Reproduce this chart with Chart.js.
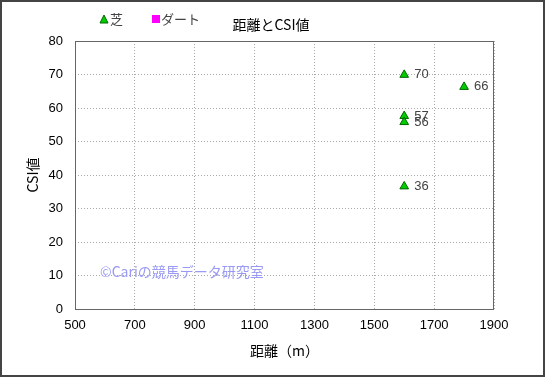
<!DOCTYPE html>
<html>
<head>
<meta charset="utf-8">
<script src="https://cdn.jsdelivr.net/npm/chart.js@4.4.0/dist/chart.umd.min.js"></script>
<style>
  html, body { margin: 0; padding: 0; background: #fff; }
  #wrap { width: 545px; height: 377px; position: relative; }
</style>
</head>
<body>
<div id="wrap"><canvas id="myChart" width="545" height="377"></canvas></div>
<script>
// distance (m) and CSI values
const turfDistance = [1600, 1800, 1600, 1600, 1600];
const turfCsi = [69.9, 66.3, 57.6, 55.8, 36.6];
const turfLabels = ['70', '66', '57', '56', '36'];
const dirtDistance = [];
const dirtCsi = [];

const xTicks = [500, 700, 900, 1100, 1300, 1500, 1700, 1900];
const yTicks = [0, 10, 20, 30, 40, 50, 60, 70, 80];

const FONT = "'Liberation Sans', 'Noto Sans CJK JP', sans-serif";
const JFONT = "'Noto Sans CJK JP', 'Liberation Sans', sans-serif";

const toPoints = (xs, ys) => xs.map((x, i) => ({ x: x, y: ys[i] }));

const extras = {
  id: 'extras',
  afterDatasetsDraw(chart) {
    const ctx = chart.ctx;
    const a = chart.chartArea;
    ctx.save();
    // plot border
    ctx.strokeStyle = '#666';
    ctx.lineWidth = 1;
    ctx.strokeRect(a.left + 0.5, a.top + 0.5, a.right - a.left - 1, a.bottom - a.top);

    // point labels
    const meta = chart.getDatasetMeta(0);
    ctx.font = '13px ' + FONT;
    ctx.fillStyle = '#444';
    ctx.textBaseline = 'middle';
    ctx.textAlign = 'left';
    meta.data.forEach((pt, i) => {
      ctx.fillText(turfLabels[i], pt.x + 10, pt.y);
    });

    // watermark
    ctx.font = '14px ' + JFONT;
    ctx.fillStyle = '#9a9af5';
    ctx.fillText('©Cariの競馬データ研究室', 100, 272);

    // title
    ctx.font = '14px ' + JFONT;
    ctx.fillStyle = '#000';
    ctx.textAlign = 'center';
    ctx.fillText('距離とCSI値', 271, 25);

    // legend
    ctx.textAlign = 'left';
    ctx.font = '13px ' + JFONT;
    ctx.fillStyle = '#00cc00';
    ctx.strokeStyle = '#006600';
    ctx.beginPath();
    ctx.moveTo(104, 15); ctx.lineTo(100, 23); ctx.lineTo(108, 23); ctx.closePath();
    ctx.fill(); ctx.stroke();
    ctx.fillStyle = '#444';
    ctx.fillText('芝', 110, 19);
    ctx.fillStyle = '#ff00ff';
    ctx.fillRect(152, 15, 8, 8);
    ctx.fillStyle = '#444';
    ctx.fillText('ダート', 161, 19);

    // outer frame
    ctx.strokeStyle = '#444';
    ctx.lineWidth = 2;
    ctx.strokeRect(1, 1, 543, 375);
    ctx.restore();
  }
};

new Chart(document.getElementById('myChart'), {
  type: 'scatter',
  data: {
    datasets: [{
      label: '芝',
      data: toPoints(turfDistance, turfCsi),
      pointStyle: 'triangle',
      pointRadius: 5,
      pointHoverRadius: 5,
      backgroundColor: '#00cc00',
      borderColor: '#006600',
      borderWidth: 1
    }, {
      label: 'ダート',
      data: toPoints(dirtDistance, dirtCsi),
      pointStyle: 'rect',
      pointRadius: 4,
      backgroundColor: '#ff00ff',
      borderColor: '#ff00ff'
    }]
  },
  options: {
    responsive: false,
    animation: false,
    events: [],
    layout: { padding: { top: 41, right: 51, left: 20, bottom: 14 } },
    plugins: {
      legend: { display: false },
      title: { display: false },
      tooltip: { enabled: false }
    },
    scales: {
      x: {
        type: 'linear',
        min: 500,
        max: 1900,
        afterBuildTicks: (scale) => { scale.ticks = xTicks.map(v => ({ value: v })); },
        afterFit: (scale) => { scale.height = 54; },
        ticks: { color: '#000', font: { size: 13, family: FONT }, padding: 9, maxRotation: 0,
                 callback: (v) => String(v) },
        grid: { color: '#aaa', lineWidth: 1, drawTicks: false },
        border: { display: false, dash: [1, 2] },
        title: { display: true, text: '距離（m）', color: '#000', font: { size: 14, family: JFONT }, padding: { top: 6 } }
      },
      y: {
        min: 0,
        max: 80,
        afterBuildTicks: (scale) => { scale.ticks = yTicks.map(v => ({ value: v })); },
        afterFit: (scale) => { scale.width = 55; },
        ticks: { color: '#000', font: { size: 13, family: FONT }, padding: 12 },
        grid: { color: '#aaa', lineWidth: 1, drawTicks: false },
        border: { display: false, dash: [1, 2] },
        title: { display: true, text: 'CSI値', color: '#000', font: { size: 14, family: JFONT }, padding: { bottom: 6 } }
      }
    }
  },
  plugins: [extras]
});
</script>
</body>
</html>
